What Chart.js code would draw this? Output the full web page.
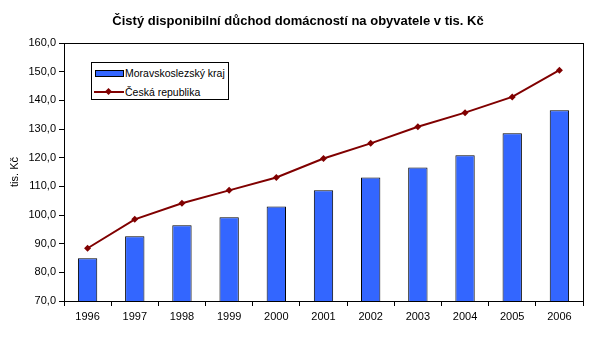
<!DOCTYPE html>
<html>
<head>
<meta charset="utf-8">
<script src="https://cdn.jsdelivr.net/npm/chart.js@4/dist/chart.umd.min.js"></script>
<style>
  html, body { margin: 0; padding: 0; background: #fff; }
  #wrap { position: relative; width: 600px; height: 338px; }
  #legend {
    position: absolute; left: 91px; top: 62px; width: 136px; height: 36px;
    border: 1px solid #000; background: #fff;
    font: 10.5px "Liberation Sans", Arial, sans-serif; color: #000;
  }
  .row { position: absolute; left: 2px; height: 14px; line-height: 14px; white-space: nowrap; }
  .row span.txt { position: absolute; left: 31px; top: 0; }
  .swatch { position: absolute; left: 1px; top: 4px; width: 27px; height: 5px; background: #3366FF; border: 1px solid #000; }
  .lineseg { position: absolute; left: 0px; top: 6px; width: 30px; height: 2px; background: #800000; }
  .dia { position: absolute; left: 12px; top: 4px; width: 5px; height: 5px; background: #800000; transform: rotate(45deg); }
</style>
</head>
<body>
<div id="wrap">
  <canvas id="c" width="600" height="338"></canvas>
  <div id="legend">
    <div class="row" style="top:3px"><div class="swatch"></div><span class="txt">Moravskoslezský kraj</span></div>
    <div class="row" style="top:22px"><div class="lineseg"></div><div class="dia"></div><span class="txt">Česká republika</span></div>
  </div>
</div>
<script>
const years = ['1996','1997','1998','1999','2000','2001','2002','2003','2004','2005','2006'];
const regionValues = [84.9, 92.6, 96.4, 99.2, 103.0, 108.6, 113.1, 116.6, 120.8, 128.5, 136.5];
const countryValues = [88.4, 98.5, 104.1, 108.6, 113.1, 119.7, 125.0, 130.8, 135.7, 141.2, 150.5];
const titleText = 'Čistý disponibilní důchod domácností na obyvatele v tis. Kč';
const axisTitle = 'tis. Kč';

const FONT = '"Liberation Sans", Arial, sans-serif';

// Frame around the plot area plus the chart and axis titles
const decor = {
  id: 'decor',
  afterDraw(chart) {
    const { ctx, chartArea: a } = chart;
    ctx.save();
    ctx.strokeStyle = '#000';
    ctx.lineWidth = 1;
    ctx.strokeRect(Math.round(a.left) + 0.5, Math.round(a.top) + 0.5,
                   Math.round(a.right - a.left), Math.round(a.bottom - a.top));
    ctx.fillStyle = '#000';
    ctx.textAlign = 'center';
    ctx.textBaseline = 'middle';

    ctx.font = 'bold 13px ' + FONT;
    ctx.fillText(titleText, 298, 21);

    ctx.font = '11px ' + FONT;
    ctx.translate(15, (a.top + a.bottom) / 2);
    ctx.rotate(-Math.PI / 2);
    ctx.fillText(axisTitle, 0, 0);
    ctx.restore();
  }
};

new Chart(document.getElementById('c'), {
  data: {
    labels: years,
    datasets: [
      {
        type: 'line',
        label: 'Česká republika',
        data: countryValues,
        borderColor: '#800000',
        backgroundColor: '#800000',
        borderWidth: 2,
        pointStyle: 'rectRot',
        pointRadius: 3.5,
        pointBorderWidth: 0,
        tension: 0,
        order: 0
      },
      {
        type: 'bar',
        label: 'Moravskoslezský kraj',
        data: regionValues,
        backgroundColor: '#3366FF',
        borderColor: '#000',
        borderWidth: 1,
        barPercentage: 0.41,
        categoryPercentage: 1,
        order: 1
      }
    ]
  },
  options: {
    responsive: false,
    animation: false,
    devicePixelRatio: 1,
    layout: { padding: { left: 0, right: 17, top: 43, bottom: 13 } },
    plugins: {
      legend: { display: false },
      title: { display: false },
      tooltip: { enabled: false }
    },
    scales: {
      x: {
        offset: true,
        grid: { offset: true, drawOnChartArea: false, drawTicks: true, tickLength: 5, color: '#000', tickColor: '#000' },
        border: { display: true, color: '#000' },
        ticks: { color: '#000', font: { family: FONT, size: 11 }, padding: 4, maxRotation: 0 },
        afterFit(s) { s.height = 24; }
      },
      y: {
        min: 70, max: 160,
        grid: { drawOnChartArea: false, drawTicks: true, tickLength: 5, color: '#000', tickColor: '#000' },
        border: { display: true, color: '#000' },
        ticks: {
          stepSize: 10, color: '#000', font: { family: FONT, size: 11 }, padding: 3,
          callback: v => v.toFixed(1).replace('.', ',')
        },
        afterFit(s) { s.width = 64; }
      }
    }
  },
  plugins: [decor]
});
</script>
</body>
</html>
